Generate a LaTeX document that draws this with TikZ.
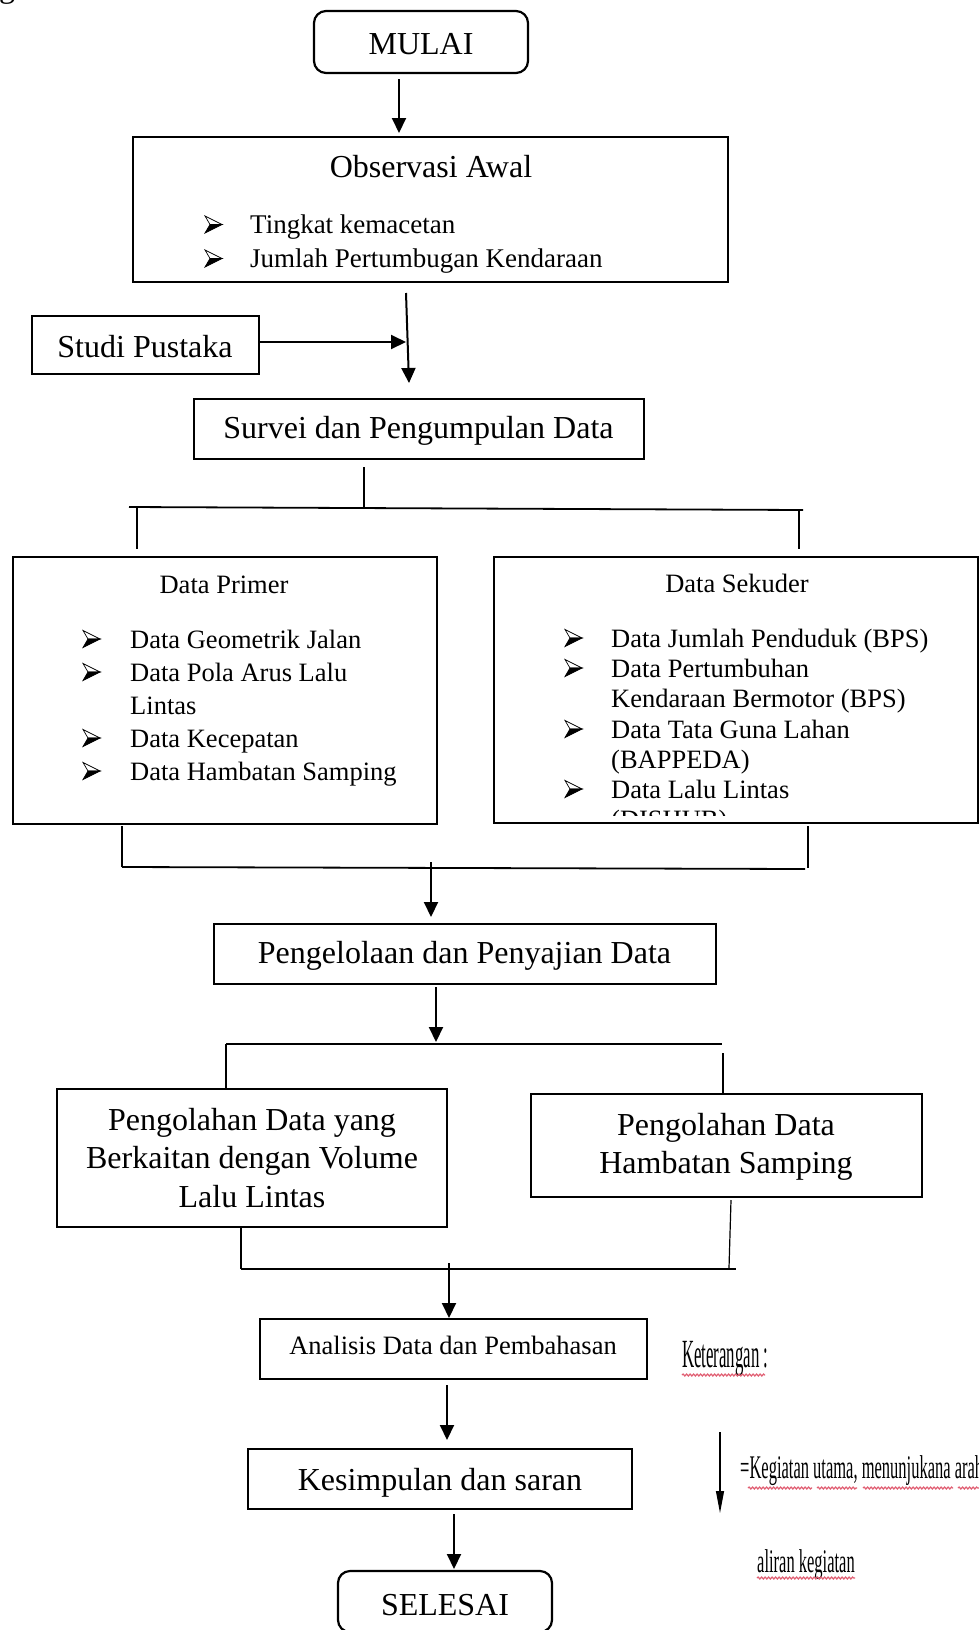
\documentclass[tikz,border=0pt]{standalone}
\usepackage{fontspec}
\setmainfont{Liberation Serif}
\usetikzlibrary{arrows.meta,calc,decorations.pathmorphing}
\newcommand{\myfs}[1]{\fontsize{#1}{#1}\selectfont}
\definecolor{squigred}{RGB}{225,95,115}
\begin{document}
\begin{tikzpicture}[x=1pt,y=-1pt,
  box/.style={draw,line width=2.2pt,inner sep=0pt,outer sep=0pt},
  rbox/.style={box,rounded corners=12pt},
  txt/.style={inner sep=0pt,anchor=base},
  txl/.style={inner sep=0pt,anchor=base west},
  fbig/.style={font=\myfs{32}},
  fmid/.style={font=\myfs{26.5}},
  arr/.style={line width=2pt,-{Triangle[length=15pt,width=14pt]}},
  hl/.style={line width=1.8pt},
  dl/.style={line width=1.2pt},
  legarr/.style={line width=1.1pt,-{Triangle[length=22pt,width=8pt]}},
  squig/.style={squigred,line width=1.2pt,decorate,decoration={snake,amplitude=1pt,segment length=3.5pt}},
  bul/.pic={
    \draw[line width=0.7pt,fill=white,line join=miter] (0,-8.5) -- (17,0) -- (5,0) -- cycle;
    \draw[line width=0.7pt,fill=black,line join=miter] (5,0) -- (17,0) -- (0,8.5) -- cycle;
  }
]
\fill[white] (0,0) rectangle (979,1630);
\useasboundingbox (0,0) rectangle (979,1630);

% fragment of preceding text
\node[txl,fbig] (gfrag) at (-1,-2) {g};

% boxes
\node[rbox,minimum width=214pt,minimum height=62pt] (mulai) at (421,42) {};
\node[box,minimum width=595pt,minimum height=145pt] (obs) at (430.5,209.5) {};
\node[box,minimum width=227pt,minimum height=58pt] (studi) at (145.5,345) {};
\node[box,minimum width=450pt,minimum height=60pt] (survei) at (419,429) {};
\node[box,minimum width=424pt,minimum height=267pt] (primer) at (225,690.5) {};
\node[box,minimum width=484pt,minimum height=266pt] (sekunder) at (736,690) {};
\node[box,minimum width=502pt,minimum height=60pt] (olah) at (465,954) {};
\node[box,minimum width=390pt,minimum height=138pt] (volume) at (252,1158) {};
\node[box,minimum width=391pt,minimum height=103pt] (hambatan) at (726.5,1145.5) {};
\node[box,minimum width=387pt,minimum height=60pt] (analisis) at (453.5,1349) {};
\node[box,minimum width=384pt,minimum height=60pt] (simpulan) at (440,1479) {};
\node[rbox,minimum width=214pt,minimum height=61pt] (selesai) at (445,1601.5) {};

% texts
\node[txt,fbig] (tmulai) at (421,54) {MULAI};
\node[txt,fbig] (tobs) at (431,177) {Observasi Awal};
\pic at (205,224.5) {bul};
\node[txl,font=\myfs{27}] (tobs1) at (250,233) {Tingkat kemacetan};
\pic at (205,258.5) {bul};
\node[txl,font=\myfs{27}] (tobs2) at (250,267) {Jumlah Pertumbugan Kendaraan};
\node[txt,fbig] (tstudi) at (145,357) {Studi Pustaka};
\node[txt,fbig] (tsurvei) at (418.5,438) {Survei dan Pengumpulan Data};

\node[txt,fmid] (tprimer) at (224,593) {Data Primer};
\pic at (83,639) {bul};
\node[txl,fmid] (p1) at (130,648) {Data Geometrik Jalan};
\pic at (83,672) {bul};
\node[txl,fmid] (p2) at (130,681) {Data Pola Arus Lalu};
\node[txl,fmid] (p3) at (130,714) {Lintas};
\pic at (83,738) {bul};
\node[txl,fmid] (p4) at (130,747) {Data Kecepatan};
\pic at (83,771) {bul};
\node[txl,fmid] (p5) at (130,780) {Data Hambatan Samping};

\node[txt,fmid] (tsekunder) at (737,592) {Data Sekuder};
\pic at (565,638) {bul};
\node[txl,fmid] (s1) at (611,647) {Data Jumlah Penduduk (BPS)};
\pic at (565,668) {bul};
\node[txl,fmid] (s2) at (611,677) {Data Pertumbuhan};
\node[txl,fmid] (s3) at (611,707) {Kendaraan Bermotor (BPS)};
\pic at (565,729) {bul};
\node[txl,fmid] (s4) at (611,738) {Data Tata Guna Lahan};
\node[txl,fmid] (s5) at (611,768) {(BAPPEDA)};
\pic at (565,789) {bul};
\node[txl,fmid] (s6) at (611,798) {Data Lalu Lintas};
\begin{scope}
\clip (600,800) rectangle (900,815.5);
\node[txl,fmid] (s7) at (611,828) {(DISHUB)};
\end{scope}

\node[txt,fbig] (tolah) at (464.5,963) {Pengelolaan dan Penyajian Data};
\node[txt,fbig] (v1) at (252,1130) {Pengolahan Data yang};
\node[txt,fbig] (v2) at (252,1168) {Berkaitan dengan Volume};
\node[txt,fbig] (v3) at (252,1207) {Lalu Lintas};
\node[txt,fbig] (h1) at (726,1135) {Pengolahan Data};
\node[txt,fbig] (h2) at (726,1173) {Hambatan Samping};
\node[txt,fmid] (tanalisis) at (453,1354) {Analisis Data dan Pembahasan};
\node[txt,fbig] (tsimpulan) at (440,1490) {Kesimpulan dan saran};
\node[txt,fbig] (tselesai) at (445,1615) {SELESAI};

% connectors
\draw[arr] ($(mulai.south)+(-22,6)$) -- ($(obs.north)+(-31.5,-4)$);
\draw[arr] ($(obs.south)+(-24.5,11)$) -- ($(survei.north)+(-10,-16)$);
\coordinate (jstudi) at (406,342);
\draw[arr] ($(studi.east)+(0,-3)$) -- (jstudi);

\coordinate (b1l) at (129,507);
\coordinate (b1r) at (803,510);
\draw[dl] ($(survei.south)+(-55,8)$) -- (364,507);
\draw[hl] (b1l) -- (b1r);
\draw[dl] (137,508) -- ($(primer.north)+(-88,-8)$);
\draw[dl] (799,510) -- ($(sekunder.north)+(63,-8)$);

\coordinate (b2l) at (122,867);
\coordinate (b2r) at (805,869);
\draw[dl] ($(primer.south)+(-103,2)$) -- (b2l);
\draw[dl] ($(sekunder.south)+(72,3)$) -- (808,868);
\draw[hl] (b2l) -- (b2r);
\draw[arr] (431,862) -- ($(olah.north)+(-34,-7)$);

\coordinate (b3l) at (226,1044);
\coordinate (b3r) at (722,1044);
\draw[arr] ($(olah.south)+(-29,3)$) -- (436,1042);
\draw[hl] (b3l) -- (b3r);
\draw[dl] (b3l) -- ($(volume.north)+(-26,-1)$);
\draw[dl] (723,1053) -- ($(hambatan.north)+(-3.5,0)$);

\coordinate (b4l) at (241,1269);
\coordinate (b4r) at (736,1269);
\draw[dl] ($(volume.south)+(-11,0)$) -- (b4l);
\draw[dl] ($(hambatan.south)+(4.5,3)$) -- (729,1268);
\draw[hl] (b4l) -- (b4r);
\draw[arr] (449,1263) -- ($(analisis.north)+(-4.5,-1)$);
\draw[arr] ($(analisis.south)+(-6.5,6)$) -- ($(simpulan.north)+(7,-9)$);
\draw[arr] ($(simpulan.south)+(14,5)$) -- ($(selesai.north)+(9,-2)$);

% legend
\node[txl] (ket) at (682,1367) {\scalebox{0.42}[1]{\myfs{40}Keterangan :}};
\draw[squig] (682,1375) -- (765,1375);
\coordinate (la1) at (720,1432);
\coordinate (la2) at (720,1513);
\draw[legarr] (la1) -- (la2);
\node[txl] (leg1) at (740,1478) {\scalebox{0.5}[1]{\myfs{33}=Kegiatan utama, menunjukana arah}};
\draw[squig] (748,1488) -- (812,1488);
\draw[squig] (817,1488) -- (857,1488);
\draw[squig] (863,1488) -- (953,1488);
\draw[squig] (958,1488) -- (979,1488);
\node[txl] (leg2) at (757,1572) {\scalebox{0.5}[1]{\myfs{33}aliran kegiatan}};
\draw[squig] (757,1578) -- (855,1578);
\end{tikzpicture}
\end{document}
